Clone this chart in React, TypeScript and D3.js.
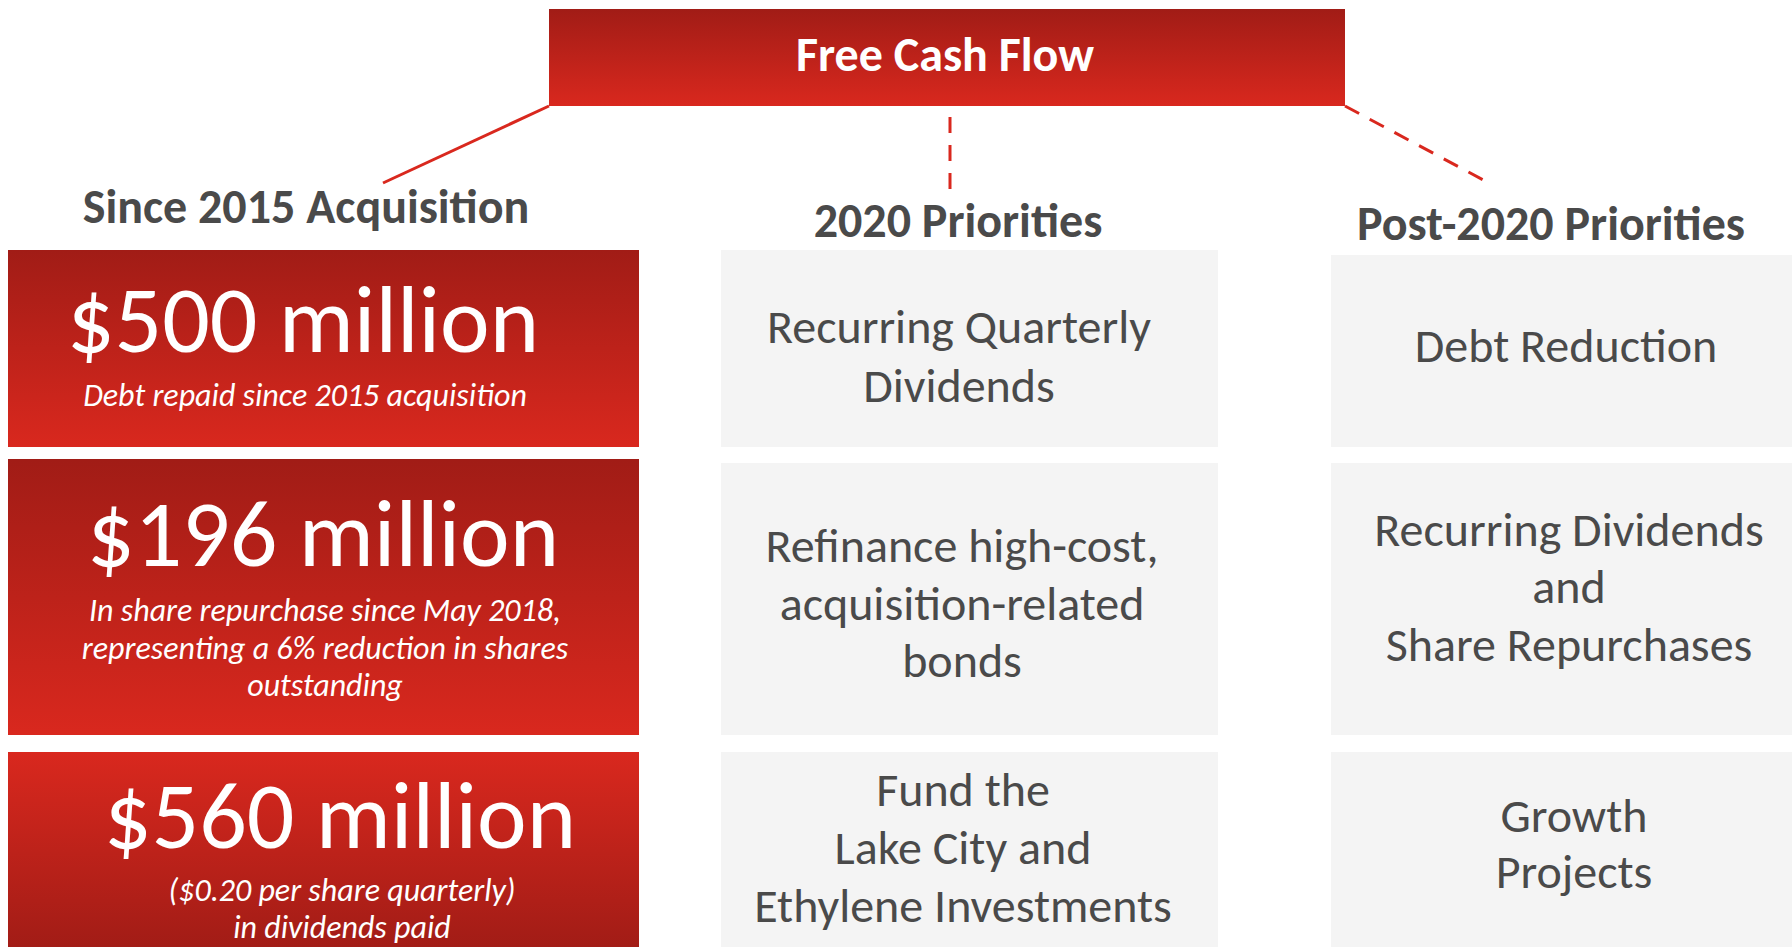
import React from 'react';
import * as d3 from 'd3';

// Content
const headerTitle = 'Free Cash Flow';
const columnTitles = ['Since 2015 Acquisition', '2020 Priorities', 'Post-2020 Priorities'];
const achievementAmounts = ['$500 million', '$196 million', '$560 million'];
const achievementNotes = [
  ['Debt repaid since 2015 acquisition'],
  ['In share repurchase since May 2018,', 'representing a 6% reduction in shares', 'outstanding'],
  ['($0.20 per share quarterly)', 'in dividends paid'],
];
const priorities2020 = [
  ['Recurring Quarterly', 'Dividends'],
  ['Refinance high-cost,', 'acquisition-related', 'bonds'],
  ['Fund the', 'Lake City and', 'Ethylene Investments'],
];
const prioritiesPost2020 = [
  ['Debt Reduction'],
  ['Recurring Dividends', 'and', 'Share Repurchases'],
  ['Growth', 'Projects'],
];

const W = 1792;
const H = 947;
const FONT = "Carlito, Lato, 'Open Sans', sans-serif";
const RED = '#d9281e';
const DARK_RED = '#a11c16';
const GRAY_TEXT = '#4a4a4a';

// layout
const cols = [
  { x0: 8, x1: 639 },
  { x0: 721, x1: 1218 },
  { x0: 1331, x1: 1792 },
];
const rows = [
  [{ y0: 250, y1: 447 }, { y0: 459, y1: 735 }, { y0: 752, y1: 950 }],
  [{ y0: 250, y1: 447 }, { y0: 463, y1: 735 }, { y0: 752, y1: 950 }],
  [{ y0: 255, y1: 447 }, { y0: 463, y1: 735 }, { y0: 752, y1: 950 }],
];
const titlePos = [
  { cx: 306, y: 223 },
  { cx: 958, y: 237 },
  { cx: 1551, y: 240 },
];
const redText = [
  { cx: 303, big: 352, notes: [406] },
  { cx: 323, big: 566, notes: [621, 659, 696] },
  { cx: 340, big: 848, notes: [901, 938] },
];
const col2Text = [
  { cx: 959, ys: [343, 402] },
  { cx: 962, ys: [562, 620, 677] },
  { cx: 963, ys: [806, 864, 922] },
];
const col3Text = [
  { cx: 1566, ys: [362] },
  { cx: 1569, ys: [546, 603, 661] },
  { cx: 1574, ys: [832, 888] },
];

export default function App() {
  const link = d3.line();
  return (
    <svg width={W} height={H} style={{ position: 'fixed', left: 0, top: 0, display: 'block', background: '#fff' }}>
      <defs>
        <linearGradient id="redDown" x1="0" y1="0" x2="0" y2="1">
          <stop offset="0%" stopColor={DARK_RED} />
          <stop offset="100%" stopColor={RED} />
        </linearGradient>
        <linearGradient id="redUp" x1="0" y1="0" x2="0" y2="1">
          <stop offset="0%" stopColor={RED} />
          <stop offset="100%" stopColor={DARK_RED} />
        </linearGradient>
      </defs>

      {/* connectors */}
      <path d={link([[549, 106], [383, 183]]) || ''} stroke={RED} strokeWidth={3} fill="none" />
      <path d={link([[950, 89], [950, 190]]) || ''} stroke={RED} strokeWidth={3} strokeDasharray="16 12" fill="none" />
      <path d={link([[1345, 106], [1489, 183]]) || ''} stroke={RED} strokeWidth={3} strokeDasharray="16 12" fill="none" />

      {/* header box */}
      <rect x={549} y={9} width={1345 - 549} height={106 - 9} fill="url(#redDown)" />
      <text x={945} y={71} textAnchor="middle" fill="#fff" fontFamily={FONT} fontWeight={700} fontSize={48}>
        {headerTitle}
      </text>

      {columnTitles.map((t, i) => (
        <text key={t} x={titlePos[i].cx} y={titlePos[i].y} textAnchor="middle" fill={GRAY_TEXT}
          fontFamily={FONT} fontWeight={700} fontSize={48}>{t}</text>
      ))}

      {/* column 1: achievements */}
      {achievementAmounts.map((amt, i) => {
        const r = rows[0][i];
        const p = redText[i];
        return (
          <g key={amt}>
            <rect x={cols[0].x0} y={r.y0} width={cols[0].x1 - cols[0].x0} height={r.y1 - r.y0}
              fill={i === 2 ? 'url(#redUp)' : 'url(#redDown)'} />
            <text x={p.cx} y={p.big} textAnchor="middle" fill="#fff" fontFamily={FONT} fontSize={94}>{amt}</text>
            {achievementNotes[i].map((n, j) => (
              <text key={n} x={p.cx + 2} y={p.notes[j]} textAnchor="middle" fill="#fff"
                fontFamily={FONT} fontStyle="italic" fontSize={32}>{n}</text>
            ))}
          </g>
        );
      })}

      {/* column 2 */}
      {priorities2020.map((lines, i) => {
        const r = rows[1][i];
        const p = col2Text[i];
        return (
          <g key={'c2' + i}>
            <rect x={cols[1].x0} y={r.y0} width={cols[1].x1 - cols[1].x0} height={r.y1 - r.y0} fill="#f4f4f4" />
            {lines.map((l, j) => (
              <text key={l} x={p.cx} y={p.ys[j]} textAnchor="middle" fill={GRAY_TEXT} fontFamily={FONT} fontSize={48}>{l}</text>
            ))}
          </g>
        );
      })}

      {/* column 3 */}
      {prioritiesPost2020.map((lines, i) => {
        const r = rows[2][i];
        const p = col3Text[i];
        return (
          <g key={'c3' + i}>
            <rect x={cols[2].x0} y={r.y0} width={cols[2].x1 - cols[2].x0} height={r.y1 - r.y0} fill="#f4f4f4" />
            {lines.map((l, j) => (
              <text key={l} x={p.cx} y={p.ys[j]} textAnchor="middle" fill={GRAY_TEXT} fontFamily={FONT} fontSize={48}>{l}</text>
            ))}
          </g>
        );
      })}
    </svg>
  );
}
